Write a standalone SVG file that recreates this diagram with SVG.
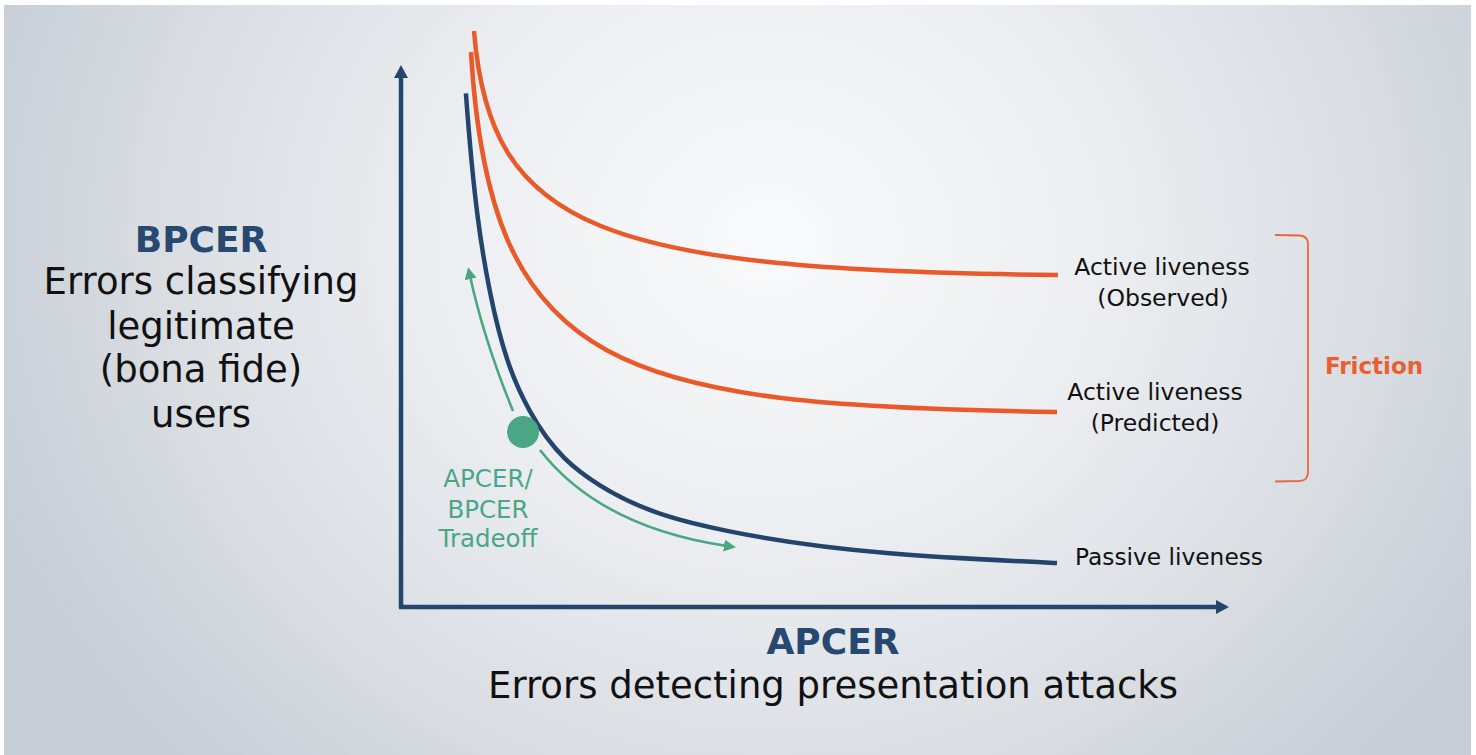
<svg xmlns="http://www.w3.org/2000/svg" width="1476" height="755" viewBox="0 0 1476 755">
  <defs>
    <radialGradient id="bg" gradientUnits="userSpaceOnUse" cx="770" cy="240" r="820" gradientTransform="translate(770 240) scale(1 0.9) translate(-770 -240)">
      <stop offset="0" stop-color="#f9fafb"/>
      <stop offset="0.4" stop-color="#eceef1"/>
      <stop offset="0.75" stop-color="#d9dde2"/>
      <stop offset="1" stop-color="#c7ced6"/>
    </radialGradient>
    <marker id="navyHead" viewBox="0 0 13 14" refX="2" refY="7" markerWidth="13" markerHeight="14" markerUnits="userSpaceOnUse" orient="auto">
      <path d="M0,0 L13,7 L0,14 Z" fill="#24466e"/>
    </marker>
    <marker id="greenHead" viewBox="0 0 12 12" refX="3" refY="6" markerWidth="12" markerHeight="12" markerUnits="userSpaceOnUse" orient="auto">
      <path d="M0,0 L12,6 L0,12 Z" fill="#4ba684"/>
    </marker>
  </defs>
  <style>
    .txt { font-family: "DejaVu Sans", "Liberation Sans", sans-serif; fill: #111111; }
    .bold { font-weight: bold; }
    .navy { fill: #27486f; }
    .orangeT { fill: #e8602f; }
    .greenT { fill: #4ba684; }
    .axis { stroke: #24466e; stroke-width: 4.5; fill: none; }
    .curveO { stroke: #e9592a; stroke-width: 4.5; fill: none; }
    .curveN { stroke: #23446c; stroke-width: 4.5; fill: none; }
    .garrow { stroke: #4ba684; stroke-width: 2.6; fill: none; }
  </style>

  <rect x="0" y="0" width="1476" height="755" fill="#ffffff"/>
  <rect x="4" y="5" width="1467" height="750" fill="url(#bg)"/>

  <g id="connectors">
    <path id="y-axis" class="axis" d="M401,608 L401,76" marker-end="url(#navyHead)"/>
    <path id="x-axis" class="axis" d="M399,607 L1218,607" marker-end="url(#navyHead)"/>
    <path id="tradeoff-up" class="garrow" d="M513,411 Q484,340 470,276" marker-end="url(#greenHead)"/>
    <path id="tradeoff-down" class="garrow" d="M540,450 Q600,527 727,546" marker-end="url(#greenHead)"/>
  </g>

  <g id="curve-observed">
    <path class="curveO" d="M474,31 C490,230 600,270 1058,275"/>
  </g>
  <g id="curve-predicted">
    <path class="curveO" d="M471,52 C490,375 620,405 1057,412"/>
  </g>
  <g id="curve-passive">
    <path class="curveN" d="M465.9,93.3 C473.8,201.1 481.6,249.7 489.5,289.4 C502.8,356.6 516.2,386.2 529.5,410.4 C552.8,452.7 576.2,470.4 599.5,485.1 C642.8,512.3 686.2,522.7 729.5,531.4 C838.7,553.4 947.8,558 1057,563"/>
  </g>

  <g id="tradeoff-point">
    <circle cx="523" cy="432" r="16" fill="#4ba684"/>
  </g>

  <g id="label-bpcer">
    <text class="txt bold navy" x="201" y="252" font-size="36" text-anchor="middle">BPCER</text>
    <text class="txt" x="201" y="294" font-size="37" text-anchor="middle">Errors classifying</text>
    <text class="txt" x="201" y="339" font-size="37" text-anchor="middle">legitimate</text>
    <text class="txt" x="201" y="382" font-size="37" text-anchor="middle">(bona fide)</text>
    <text class="txt" x="201" y="427" font-size="37" text-anchor="middle">users</text>
  </g>

  <g id="label-apcer">
    <text class="txt bold navy" x="833" y="654" font-size="36" text-anchor="middle">APCER</text>
    <text class="txt" x="833" y="698" font-size="37" text-anchor="middle">Errors detecting presentation attacks</text>
  </g>

  <g id="label-observed">
    <text class="txt" x="1162" y="275" font-size="23.5" text-anchor="middle">Active liveness</text>
    <text class="txt" x="1163" y="306" font-size="23.5" text-anchor="middle">(Observed)</text>
  </g>
  <g id="label-predicted">
    <text class="txt" x="1155" y="400" font-size="23.5" text-anchor="middle">Active liveness</text>
    <text class="txt" x="1155" y="431" font-size="23.5" text-anchor="middle">(Predicted)</text>
  </g>
  <g id="label-passive">
    <text class="txt" x="1075" y="565" font-size="23.3">Passive liveness</text>
  </g>

  <g id="friction">
    <path d="M1275,235 L1300,235.5 Q1308,236 1308,244 L1308,472 Q1308,480.5 1300,481 L1275,481.5" fill="none" stroke="#e9673a" stroke-width="1.8"/>
    <text class="txt bold orangeT" x="1374" y="374" font-size="23" text-anchor="middle">Friction</text>
  </g>

  <g id="label-tradeoff">
    <text class="txt greenT" x="488" y="487" font-size="24.5" text-anchor="middle">APCER/</text>
    <text class="txt greenT" x="488" y="518" font-size="24.5" text-anchor="middle">BPCER</text>
    <text class="txt greenT" x="488" y="547" font-size="24.5" text-anchor="middle">Tradeoff</text>
  </g>
</svg>
